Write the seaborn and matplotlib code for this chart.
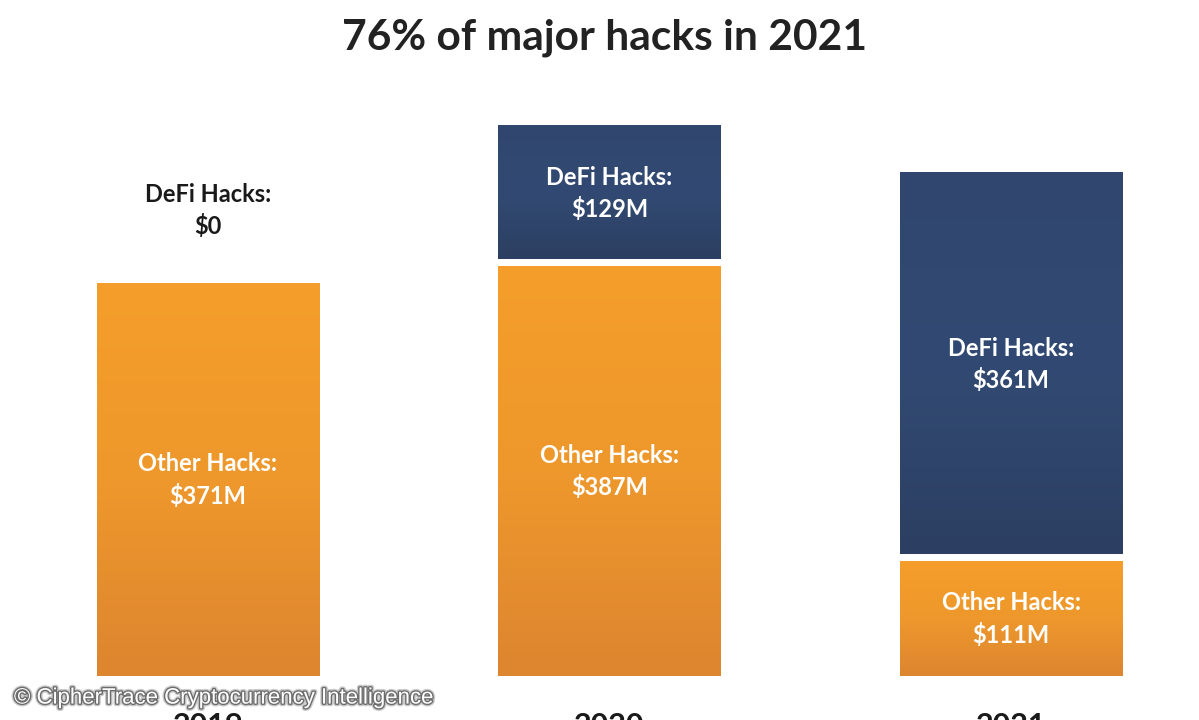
import numpy as np
import pandas as pd
import matplotlib
matplotlib.use("Agg")
import matplotlib.pyplot as plt
import matplotlib.patheffects as pe
from matplotlib.colors import LinearSegmentedColormap
import seaborn as sns

years = ["2019", "2020", "2021"]
other_hacks = [371, 387, 111]
defi_hacks = [0, 129, 361]

sns.set_theme(style="white")
plt.rcParams["font.family"] = ["Lato", "DejaVu Sans"]

ORANGE = LinearSegmentedColormap.from_list("orange", ["#dd8530", "#ee982c", "#f59e2b"])
NAVY = LinearSegmentedColormap.from_list("navy", ["#2c3f62", "#324a73", "#30466e"])
GAP = 3  # half of the white gap between segments, in $M

df = pd.DataFrame({"year": years, "other": other_hacks, "defi": defi_hacks})
df["total"] = df["other"] + df["defi"]

fig = plt.figure(figsize=(11.99, 7.2), dpi=100)
ax = fig.add_axes([0, 44 / 720, 1, 676 / 720])

# totals first, the orange part goes on top of them
sns.barplot(data=df, x="year", y="total", color="#324a73", width=0.553,
            saturation=1, ax=ax)
n_back = len(ax.patches)
sns.barplot(data=df, x="year", y="other", color="#f09a2c", width=0.553,
            saturation=1, ax=ax)

ax.set_xlim(-208 / 401.5, (1199 - 208) / 401.5)
ax.set_ylim(0, 676 / 1.068)


def paint_gradient(patch, cmap):
    box = patch.get_bbox()
    im = ax.imshow(np.linspace(0, 1, 256).reshape(-1, 1), cmap=cmap, aspect="auto",
                   origin="lower", extent=(box.x0, box.x1, box.y0, box.y1), zorder=3)
    im.set_clip_path(patch)


xlim, ylim = ax.get_xlim(), ax.get_ylim()
for i, patch in enumerate(ax.patches):
    if i < n_back:
        if df["defi"].iloc[i] == 0:
            patch.set_visible(False)
            continue
        # leave the white gap between the two segments
        other = df["other"].iloc[i]
        patch.set_height(patch.get_height() - other - GAP)
        patch.set_y(other + GAP)
        paint_gradient(patch, NAVY)
    else:
        patch.set_height(patch.get_height() - GAP)
        paint_gradient(patch, ORANGE)
ax.set_xlim(xlim)
ax.set_ylim(ylim)

for i, row in df.iterrows():
    ax.text(i, row["other"] / 2 - 2, f"Other Hacks:\n${row['other']}M", color="white",
            ha="center", va="center", fontsize=17, fontweight="bold",
            linespacing=1.42, zorder=5)
    if row["defi"] > 0:
        ax.text(i, row["other"] + row["defi"] / 2, f"DeFi Hacks:\n${row['defi']}M",
                color="white", ha="center", va="center", fontsize=17,
                fontweight="bold", linespacing=1.42, zorder=5)
    else:
        ax.text(i, row["other"] + 65, "DeFi Hacks:\n$0", color="#1a1a1a",
                ha="center", va="center", fontsize=17, fontweight="bold",
                linespacing=1.42, zorder=5)

sns.despine(ax=ax, left=True, bottom=True, top=True, right=True)
ax.set_xlabel("")
ax.set_ylabel("")
ax.set_yticks([])
ax.tick_params(axis="x", length=0, pad=26)
ax.set_xticks(range(len(years)))
ax.set_xticklabels(years, fontsize=22, fontweight="bold", color="#1a1a1a")

fig.text(605 / 1199, 1 - 38 / 720, "76% of major hacks in 2021", ha="center", va="center",
         fontsize=30.6, fontweight="bold", color="#222222")

fig.text(14 / 1199, 1 - 698 / 720, "© CipherTrace Cryptocurrency Intelligence",
         ha="left", va="center", fontsize=16, color="white", family=["Liberation Sans"],
         path_effects=[pe.withStroke(linewidth=4, foreground="#999999", alpha=0.5),
                       pe.withStroke(linewidth=2, foreground="#555555", alpha=0.8)], zorder=10)

fig.savefig("out.png", dpi=100, facecolor="white")
